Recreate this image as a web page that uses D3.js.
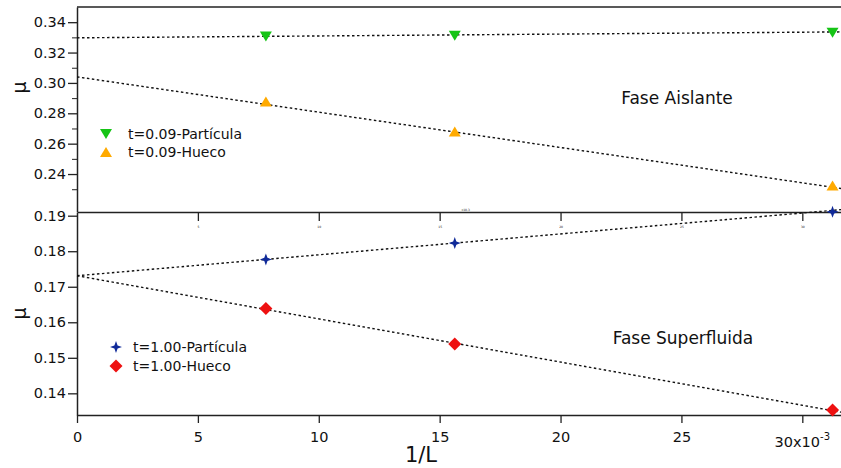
<!DOCTYPE html>
<html>
<head>
<meta charset="utf-8">
<script src="https://cdn.jsdelivr.net/npm/d3@7"></script>
<style>
  html, body { margin: 0; padding: 0; background: #fff; }
  svg text { font-family: "DejaVu Sans", sans-serif; fill: #111; }
  .axis path, .axis line { stroke: #222; }
</style>
</head>
<body>
<svg id="chart" width="841" height="468"></svg>
<script>
  // x values (1/L) for L = 128, 64, 32
  const invL = [0.0078125, 0.015625, 0.03125];

  // top panel, t = 0.09
  const particulaT009 = [0.3305, 0.3311, 0.3331];
  const huecoT009 = [0.2877, 0.2680, 0.2324];
  // bottom panel, t = 1.00
  const particulaT100 = [0.1777, 0.1823, 0.1911];
  const huecoT100 = [0.1639, 0.1539, 0.1353];

  // dotted fit lines, value at 1/L = 0 and at right edge
  const fitX = [0, 0.0316];
  const fitParticulaT009 = [0.3297, 0.3336];
  const fitHuecoT009 = [0.3040, 0.2305];
  const fitParticulaT100 = [0.1731, 0.1917];
  const fitHuecoT100 = [0.1731, 0.1347];

  const xTicks = [0, 0.005, 0.01, 0.015, 0.02, 0.025, 0.03];
  const topMajor = [0.24, 0.26, 0.28, 0.30, 0.32, 0.34];
  const topMinor = [0.23, 0.25, 0.27, 0.29, 0.31, 0.33];
  const bottomMajor = [0.14, 0.15, 0.16, 0.17, 0.18, 0.19];

  const svg = d3.select("#chart");

  const x = d3.scaleLinear().domain([0, 0.0316]).range([77, 841]);
  const yTop = d3.scaleLinear().domain([0.215, 0.35]).range([212, 7]);
  const yBot = d3.scaleLinear().domain([0.1339, 0.1909]).range([415, 212.5]);

  const fmtX = (d) => (d === 0.03 ? "" : d3.format("d")(Math.round(d * 1000)));

  // ---- axes ----
  const gTopLeft = svg.append("g").attr("class", "axis")
    .attr("transform", "translate(77,0)")
    .call(d3.axisLeft(yTop).tickValues(topMajor).tickFormat(d3.format(".2f")).tickSize(9).tickSizeOuter(0));
  svg.append("g").attr("class", "axis")
    .attr("transform", "translate(77,0)")
    .call(d3.axisLeft(yTop).tickValues(topMinor).tickFormat("").tickSize(5).tickSizeOuter(0))
    .call((g) => g.select(".domain").remove());

  const gBotLeft = svg.append("g").attr("class", "axis")
    .attr("transform", "translate(77,0)")
    .call(d3.axisLeft(yBot).tickValues(bottomMajor).tickFormat(d3.format(".2f")).tickSize(9).tickSizeOuter(0));

  [gTopLeft, gBotLeft].forEach((g) => {
    g.selectAll(".tick text").attr("font-size", 14.5).attr("x", -11).attr("fill", "#111");
    g.select(".domain").attr("stroke-width", 1.5);
    g.selectAll(".tick line").attr("stroke-width", 1.3);
  });

  // top border of the upper panel
  svg.append("line")
    .attr("x1", 77).attr("x2", 841)
    .attr("y1", yTop(0.35)).attr("y2", yTop(0.35))
    .attr("stroke", "#222").attr("stroke-width", 1.5);

  // bottom axis of the upper panel (with faint labels)
  const gMid = svg.append("g").attr("class", "axis")
    .attr("transform", `translate(0,${yTop(0.215)})`)
    .call(d3.axisBottom(x).tickValues(xTicks.slice(1)).tickFormat((d) => fmtX(d) || "30").tickSize(9).tickSizeOuter(0));
  gMid.select(".domain").attr("stroke-width", 1.5);
  gMid.selectAll(".tick line").attr("stroke-width", 1.3);
  gMid.selectAll(".tick text").attr("font-size", 3).attr("fill", "#ccc").attr("y", 14);
  svg.append("text").attr("x", x(0.0159)).attr("y", yTop(0.215) - 1)
    .attr("font-size", 3).attr("fill", "#ccc").text("x10-3");

  // bottom x axis
  const gX = svg.append("g").attr("class", "axis")
    .attr("transform", `translate(0,${yBot(0.1339)})`)
    .call(d3.axisBottom(x).tickValues(xTicks).tickFormat(fmtX).tickSize(8).tickSizeOuter(0));
  gX.select(".domain").attr("stroke-width", 1.5);
  gX.selectAll(".tick line").attr("stroke-width", 1.3);
  gX.selectAll(".tick text").attr("font-size", 14.5).attr("y", 17).attr("fill", "#111");

  const last = svg.append("text")
    .attr("x", x(0.03)).attr("y", yBot(0.1339) + 32)
    .attr("text-anchor", "middle").attr("font-size", 14.5);
  last.append("tspan").text("30x10");
  last.append("tspan").attr("dy", -7).attr("font-size", 10).text("-3");

  // axis titles
  svg.append("text").attr("x", 421).attr("y", 462)
    .attr("text-anchor", "middle").attr("font-size", 21).text("1/L");
  [yTop(0.297), yBot(0.1625)].forEach((yy) => {
    svg.append("text")
      .attr("transform", `translate(26,${yy}) rotate(-90)`)
      .attr("text-anchor", "middle").attr("font-size", 19).text("μ");
  });

  // ---- fit lines ----
  const fits = [
    [fitParticulaT009, yTop], [fitHuecoT009, yTop],
    [fitParticulaT100, yBot], [fitHuecoT100, yBot]
  ];
  fits.forEach(([vals, ys]) => {
    svg.append("path")
      .datum(fitX.map((d, i) => [d, vals[i]]))
      .attr("d", d3.line().x((d) => x(d[0])).y((d) => ys(d[1])))
      .attr("fill", "none").attr("stroke", "#111")
      .attr("stroke-width", 1.4).attr("stroke-dasharray", "2.5,2.5");
  });

  // ---- markers ----
  const triDown = "M-6,-5L6,-5L0,5Z";
  const triUp = "M-6,5L6,5L0,-5Z";
  const diamond = "M0,-6.5L6.5,0L0,6.5L-6.5,0Z";
  const star = "M0,-6L1.6,-1.6L6,0L1.6,1.6L0,6L-1.6,1.6L-6,0L-1.6,-1.6Z";

  const series = [
    { vals: particulaT009, ys: yTop, shape: triDown, color: "#16c416", label: "t=0.09-Partícula", lx: 106, ly: 134 },
    { vals: huecoT009, ys: yTop, shape: triUp, color: "#ffaa00", label: "t=0.09-Hueco", lx: 106, ly: 152 },
    { vals: particulaT100, ys: yBot, shape: star, color: "#102a99", label: "t=1.00-Partícula", lx: 116, ly: 347 },
    { vals: huecoT100, ys: yBot, shape: diamond, color: "#ee1111", label: "t=1.00-Hueco", lx: 116, ly: 366 }
  ];

  series.forEach((s) => {
    svg.append("g").selectAll("path")
      .data(invL.map((d, i) => [d, s.vals[i]]))
      .join("path")
      .attr("transform", (d) => `translate(${x(d[0])},${s.ys(d[1])})`)
      .attr("d", s.shape)
      .attr("fill", s.color);

    svg.append("path")
      .attr("transform", `translate(${s.lx},${s.ly})`)
      .attr("d", s.shape).attr("fill", s.color);
    svg.append("text")
      .attr("x", s.lx + (s.ys === yTop ? 22 : 17)).attr("y", s.ly + 5)
      .attr("font-size", 14).text(s.label);
  });

  // ---- phase annotations ----
  svg.append("text").attr("x", 677).attr("y", 104)
    .attr("text-anchor", "middle").attr("font-size", 17).text("Fase Aislante");
  svg.append("text").attr("x", 683).attr("y", 344)
    .attr("text-anchor", "middle").attr("font-size", 17).text("Fase Superfluida");
</script>
</body>
</html>
